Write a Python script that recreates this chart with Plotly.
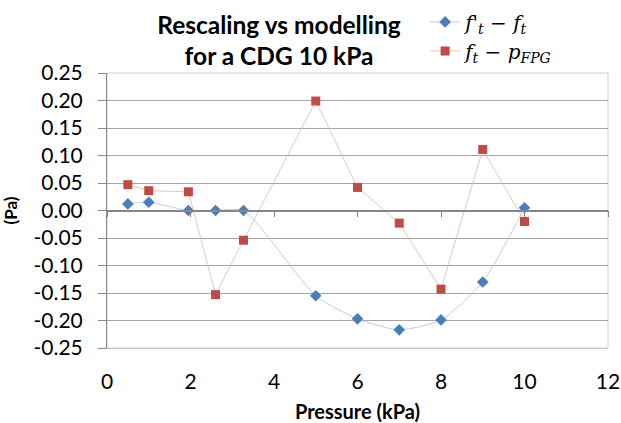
import plotly.graph_objects as go

pressure = [0.5, 1.0, 1.95, 2.6, 3.27, 5.0, 6.0, 7.0, 8.0, 9.0, 10.0]
diff_rescale = [0.012, 0.015, 0.0, 0.0, 0.0, -0.155, -0.197, -0.217, -0.199, -0.130, 0.005]
diff_model = [0.047, 0.036, 0.034, -0.153, -0.054, 0.199, 0.042, -0.023, -0.143, 0.111, -0.020]

y_ticks = [0.25, 0.20, 0.15, 0.10, 0.05, 0.0, -0.05, -0.10, -0.15, -0.20, -0.25]
y_tick_labels = ["0.25", "0.20", "0.15", "0.10", "0.05", "0.00",
                 "-0.05", "-0.10", "-0.15", "-0.20", "-0.25"]
x_ticks = [0, 2, 4, 6, 8, 10, 12]

W, H = 621, 423

fig = go.Figure()
fig.add_trace(go.Scatter(
    x=pressure, y=diff_rescale, mode="lines+markers",
    name="<i>f</i>'<sub><i>t</i></sub> − <i>f</i><sub><i>t</i></sub>",
    line=dict(color="#a9c1e3", width=0.8, shape="spline", smoothing=0.6),
    marker=dict(symbol="diamond", size=9, color="#4a7ebb"),
))
fig.add_trace(go.Scatter(
    x=pressure, y=diff_model, mode="lines+markers",
    name="<i>f</i><sub><i>t</i></sub> − <i>p</i><sub><i>FPG</i></sub>",
    line=dict(color="#eab3b2", width=0.8),
    marker=dict(symbol="square", size=9, color="#be4b48"),
))
# invisible trace to provide tick marks along the zero line
fig.add_trace(go.Scatter(x=[0, 12], y=[0, 0], xaxis="x2", mode="lines",
                         line=dict(color="rgba(0,0,0,0)"), showlegend=False,
                         hoverinfo="skip"))

fig.update_layout(
    width=W, height=H,
    paper_bgcolor="white", plot_bgcolor="white",
    margin=dict(l=107, r=13, t=73, b=75, autoexpand=False),
    font=dict(family="Lato", size=21, color="black"),
    title=dict(text="<b>Rescaling vs modelling<br>for a CDG 10 kPa</b>",
               x=279 / W, xanchor="center", xref="container",
               y=1 - 33.5 / H, yanchor="middle", yref="container",
               font=dict(family="Lato", size=24.5, color="black")),
    legend=dict(x=0.635, y=1.133, xanchor="left", yanchor="middle",
                xref="paper", yref="paper",
                bgcolor="rgba(0,0,0,0)",
                font=dict(family="DejaVu Serif", size=20, color="black"),
                tracegroupgap=0, itemwidth=30),
    xaxis=dict(range=[0, 12], tickvals=x_ticks, showgrid=False, zeroline=False,
               showline=True, linecolor="#c8c8c8", mirror=False,
               ticks="", tickfont=dict(size=21), automargin=False,
               ticklabelstandoff=15, ticklabeloverflow="allow",
               title=dict(text="<b>Pressure (kPa)</b>", font=dict(size=20), standoff=18)),
    xaxis2=dict(range=[0, 12], tickvals=x_ticks, overlaying="x", anchor="free",
                position=0.5, side="bottom", showticklabels=False, ticks="outside",
                ticklen=6, tickcolor="#868686", showgrid=False, zeroline=False,
                showline=True, linecolor="#868686", linewidth=1.5),
    yaxis=dict(range=[-0.25, 0.25], tickvals=y_ticks, ticktext=y_tick_labels,
               showgrid=True, gridcolor="#a6a6a6", gridwidth=1,
               zeroline=False, showline=True, linecolor="#868686",
               ticks="outside", ticklen=8, tickcolor="#868686",
               tickfont=dict(size=21), automargin=False, ticklabelstandoff=11,
               title=dict(text="<b>(Pa)</b>", font=dict(size=17), standoff=14)),
)
fig.add_shape(type="rect", xref="paper", yref="paper", x0=0, y0=0, x1=1, y1=1,
              line=dict(color="#d0d0d0", width=1), layer="below")

fig.write_html("out.html", config={"displayModeBar": False},
               post_script="document.body.style.margin='0';document.body.style.overflow='hidden';")
